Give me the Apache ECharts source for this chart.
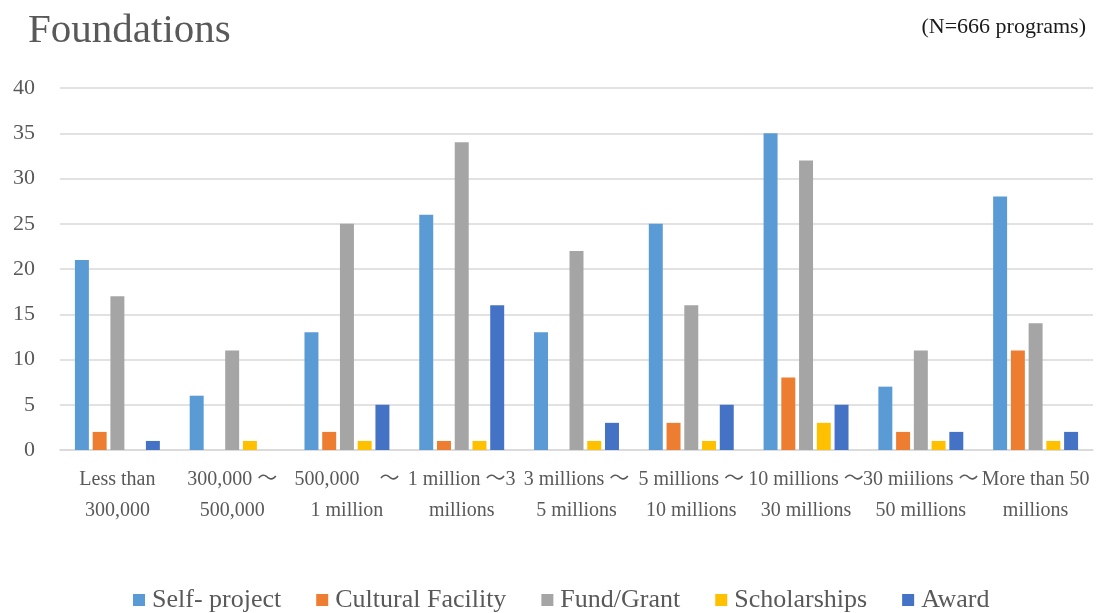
<!DOCTYPE html>
<html>
<head>
<meta charset="utf-8">
<script src="https://cdn.jsdelivr.net/npm/echarts@6/dist/echarts.min.js"></script>
<style>
  html, body { margin: 0; padding: 0; background: #ffffff; }
  #chart { width: 1096px; height: 613px; }
</style>
</head>
<body>
<div id="chart"></div>
<script>
// Grant programs of foundations, grouped by annual budget band
const categories = [
  'Less than\n300,000',
  '300,000 ～\n500,000',
  '500,000　～\n1 million',
  '1 million ～3\nmillions',
  '3 millions ～\n5 millions',
  '5 millions ～\n10 millions',
  '10 millions ～\n30 millions',
  '30 miilions ～\n50 millions',
  'More than 50\nmillions'
];
const seriesNames = ['Self- project', 'Cultural Facility', 'Fund/Grant', 'Scholarships', 'Award'];
const selfProject      = [21, 6, 13, 26, 13, 25, 35, 7, 28];
const culturalFacility = [2, 0, 2, 1, 0, 3, 8, 2, 11];
const fundGrant        = [17, 11, 25, 34, 22, 16, 32, 11, 14];
const scholarships     = [0, 1, 1, 1, 1, 1, 3, 1, 1];
const award            = [1, 0, 5, 16, 3, 5, 5, 2, 2];
const yTicks = { min: 0, max: 40, interval: 5 };

const seriesValues = [selfProject, culturalFacility, fundGrant, scholarships, award];
const colors = ['#5B9BD5', '#ED7D31', '#A5A5A5', '#FFC000', '#4472C4'];
const serif = '"Liberation Serif", "Noto Sans CJK JP", serif';

const chart = echarts.init(document.getElementById('chart'), null, { renderer: 'canvas' });

chart.setOption({
  animation: false,
  backgroundColor: '#ffffff',
  color: colors,
  title: [
    {
      text: 'Foundations',
      left: 23,
      top: 6,
      textStyle: { fontFamily: serif, fontSize: 41, fontWeight: 'normal', color: '#595959' }
    },
    {
      text: '(N=666 programs)',
      right: 5,
      top: 11,
      textStyle: { fontFamily: serif, fontSize: 22, fontWeight: 'normal', color: '#1a1a1a' }
    }
  ],
  legend: {
    data: seriesNames,
    top: 582,
    left: 128,
    itemWidth: 12,
    itemHeight: 12,
    itemGap: 35,
    icon: 'rect',
    textStyle: { fontFamily: serif, fontSize: 26, color: '#595959', padding: [0, 0, 0, 2] }
  },
  grid: { left: 60, right: 3, top: 88, bottom: 163, containLabel: false },
  xAxis: {
    type: 'category',
    data: categories,
    axisLine: { show: true, lineStyle: { color: '#D9D9D9', width: 1.5 } },
    axisTick: { show: false },
    axisLabel: {
      interval: 0,
      margin: 14,
      fontFamily: serif,
      fontSize: 20,
      lineHeight: 31,
      color: '#595959'
    }
  },
  yAxis: {
    type: 'value',
    min: yTicks.min,
    max: yTicks.max,
    interval: yTicks.interval,
    axisLine: { show: false },
    axisTick: { show: false },
    splitLine: { lineStyle: { color: '#D9D9D9', width: 1.5 } },
    axisLabel: { margin: 25, fontFamily: serif, fontSize: 22, color: '#595959' }
  },
  series: seriesNames.map((name, i) => ({
    name: name,
    type: 'bar',
    data: seriesValues[i],
    barGap: '27%',
    barCategoryGap: '26%',
    itemStyle: { color: colors[i] }
  }))
});
</script>
</body>
</html>
